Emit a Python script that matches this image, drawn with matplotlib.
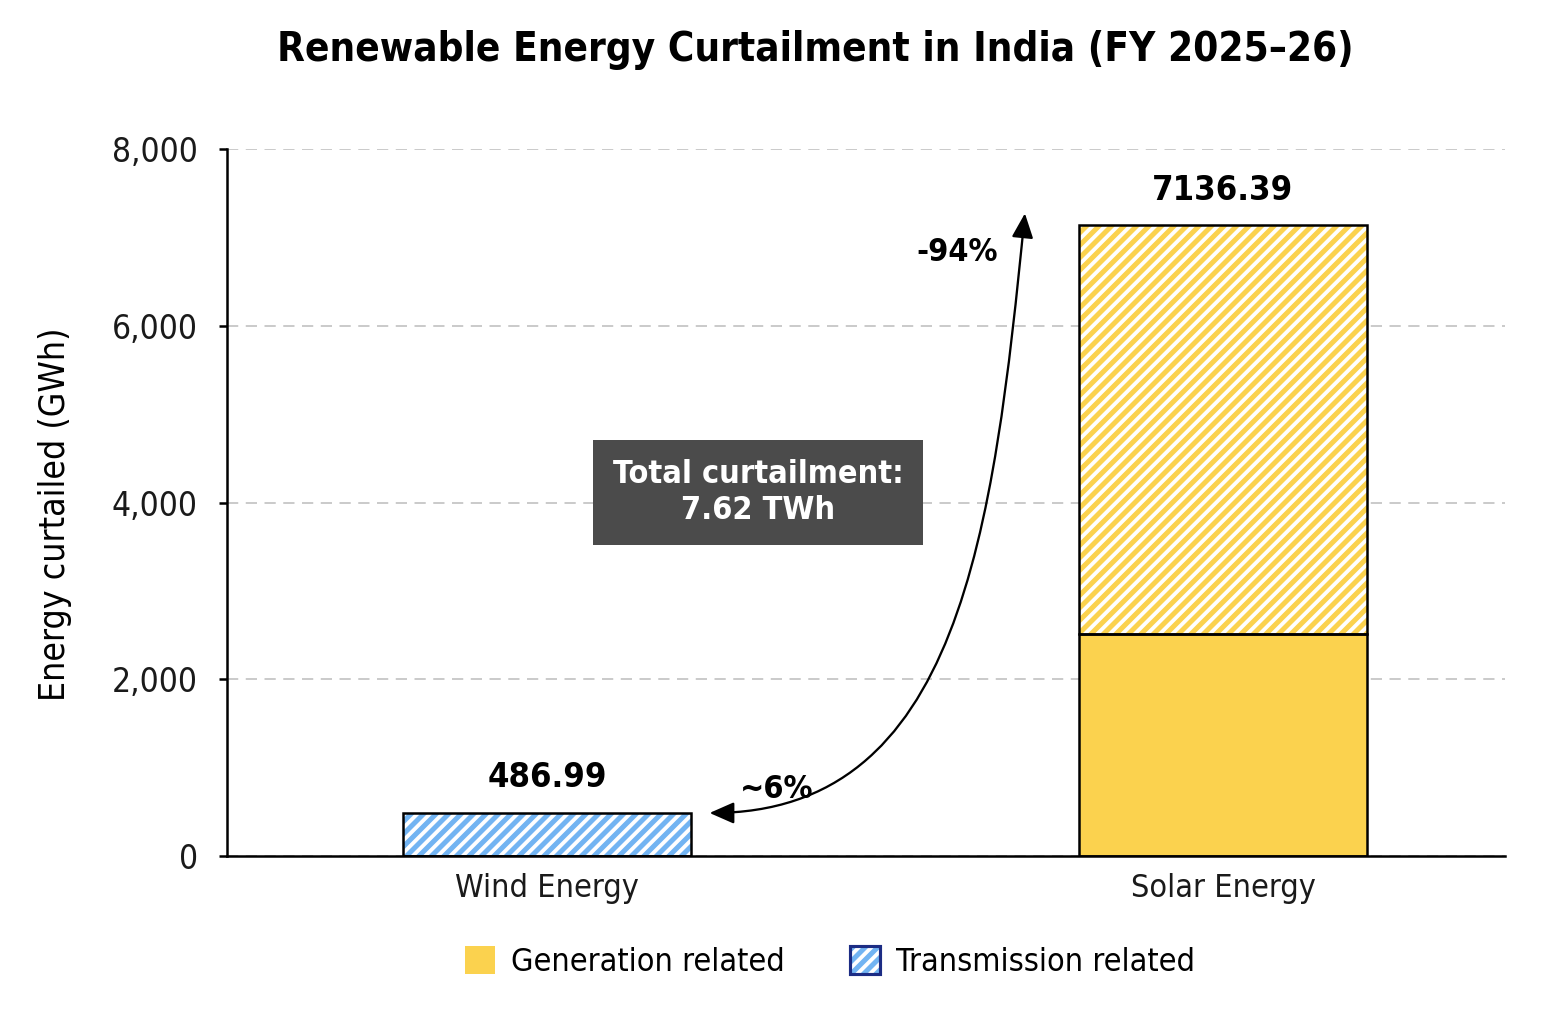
import numpy as np
import matplotlib
matplotlib.use("Agg")
import matplotlib.pyplot as plt
from matplotlib.patches import Patch, FancyArrowPatch, ArrowStyle
from matplotlib.path import Path
from matplotlib.legend_handler import HandlerTuple
from matplotlib.ticker import FuncFormatter

plt.rcParams['font.family'] = ['DejaVu Sans']
plt.rcParams['font.stretch'] = 'condensed'
plt.rcParams['hatch.linewidth'] = 2.4

# data
categories = ["Wind Energy", "Solar Energy"]
generation = [0.0, 2510.0]
transmission = [486.99, 4626.39]
totals = [486.99, 7136.39]
share_labels = ["~6%", "-94%"]
total_text = "Total curtailment:\n7.62 TWh"
yticks = [0, 2000, 4000, 6000, 8000]

YELLOW = "#fbd24e"
BLUE = "#72b4f2"
NAVY = "#1c2c84"

DPI = 150
fig = plt.figure(figsize=(1553 / DPI, 1013 / DPI), dpi=DPI)
ax = fig.add_axes([227 / 1553, 1 - 856 / 1013, (1505 - 227) / 1553, (856 - 149) / 1013])

x = np.arange(len(categories))
width = 0.425
hatch_cols = [BLUE, YELLOW]

# generation part (solid)
ax.bar(x, generation, width, color=YELLOW, edgecolor="none", linewidth=0)
# transmission part (hatched)
ax.bar(x, transmission, width, bottom=generation, color="white",
       edgecolor=hatch_cols, hatch="////", linewidth=0)
# outlines
ax.bar(x, generation, width, fill=False, edgecolor="black", linewidth=1.2)
ax.bar(x, transmission, width, bottom=generation, fill=False,
       edgecolor="black", linewidth=1.2)

for xi, tot in zip(x, totals):
    ax.annotate(f"{tot:.2f}", (xi, tot), xytext=(0, 9), textcoords="offset points",
                ha="center", va="bottom", fontsize=16.5, fontweight="bold")

ax.set_xlim(-0.4734, 1.4172)
ax.set_ylim(0, 8000)
ax.set_yticks(yticks)
ax.yaxis.set_major_formatter(FuncFormatter(lambda v, p: f"{v:,.0f}"))
ax.set_xticks(x)
ax.set_xticklabels(categories)
ax.tick_params(axis="y", length=4, width=1.2, pad=10, labelsize=16, labelcolor="#1a1a1a")
ax.tick_params(axis="x", length=0, pad=8, labelsize=15.5, labelcolor="#1a1a1a")
ax.set_ylabel("Energy curtailed (GWh)", fontsize=17)
ax.yaxis.set_label_coords(-0.121, 0.484)

for s in ["top", "right"]:
    ax.spines[s].set_visible(False)
for s in ["left", "bottom"]:
    ax.spines[s].set_linewidth(1.2)
ax.set_axisbelow(True)
ax.yaxis.grid(True, linestyle=(0, (6, 4)), color="#c8c8c8", linewidth=0.9)

# curved double arrow between the bars
p0 = (x[0] + width / 2 + 0.028, totals[0])
p3 = (0.707, totals[1] + 135)
verts = [p0, (0.61, totals[0]), (0.66, 3650), p3]
arrow = FancyArrowPatch(path=Path(verts, [Path.MOVETO, Path.CURVE4, Path.CURVE4, Path.CURVE4]),
                        arrowstyle=ArrowStyle("<|-|>", head_length=0.5, head_width=0.22),
                        mutation_scale=20, color="black", linewidth=1.1)
ax.add_patch(arrow)
ax.text(0.34, 750, share_labels[0], ha="center", va="center", fontsize=15.5, fontweight="bold")
ax.text(0.607, 6830, share_labels[1], ha="center", va="center", fontsize=15.5, fontweight="bold")

ax.text(0.312, 4113, total_text, ha="center", va="center", fontsize=15.5,
        fontweight="bold", color="white", linespacing=1.2,
        bbox=dict(boxstyle="square,pad=0.6", facecolor="#4b4b4b", edgecolor="none"))

fig.text(815 / 1553, 1 - 50 / 1013, "Renewable Energy Curtailment in India (FY 2025–26)",
         ha="center", va="center", fontsize=19.3, fontweight="bold")

handles = [Patch(facecolor=YELLOW, edgecolor="none"),
           (Patch(facecolor="white", edgecolor=BLUE, hatch="////", linewidth=0),
            Patch(fill=False, edgecolor=NAVY, linewidth=1.5))]
fig.legend(handles, ["Generation related", "Transmission related"],
           loc="center", bbox_to_anchor=(830 / 1553, 1 - 962 / 1013), ncol=2,
           frameon=False, fontsize=15.5, handlelength=0.95, handleheight=0.95,
           handletextpad=0.5, columnspacing=2.0,
           handler_map={tuple: HandlerTuple(ndivide=1)})

fig.savefig("out.png", dpi=DPI)
